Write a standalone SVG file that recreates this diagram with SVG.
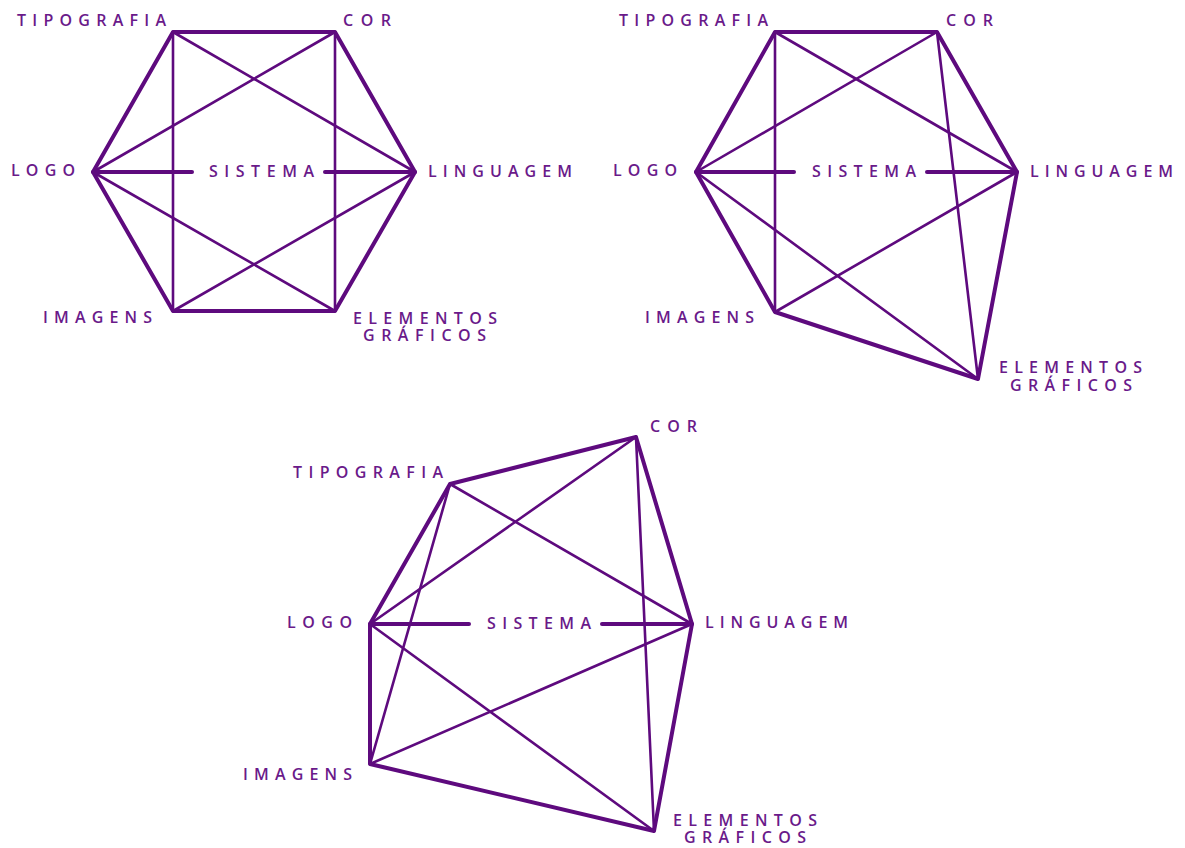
<svg xmlns="http://www.w3.org/2000/svg" width="1185" height="848" viewBox="0 0 1185 848">
<style>
.thick{stroke:#5e0a7e;stroke-width:4;fill:none;stroke-linecap:round;stroke-linejoin:round}
.thin{stroke:#5e0a7e;stroke-width:2.6;fill:none;stroke-linecap:round}
.lbl{font-family:"Open Sans","Liberation Sans",sans-serif;font-weight:600;font-size:16px;fill:#6a1a8a}
</style>
<rect width="1185" height="848" fill="#ffffff"/>
<g id="connectors">
<!-- diagram 1 -->
<polygon class="thick" points="173,32 335,32 415,172 335,311 173,311 93,172"/>
<line class="thin" x1="173" y1="32" x2="173" y2="311"/>
<line class="thin" x1="335" y1="32" x2="335" y2="311"/>
<line class="thin" x1="173" y1="32" x2="415" y2="172"/>
<line class="thin" x1="335" y1="32" x2="93" y2="172"/>
<line class="thin" x1="93" y1="172" x2="335" y2="311"/>
<line class="thin" x1="415" y1="172" x2="173" y2="311"/>
<line class="thick" x1="93" y1="172" x2="192" y2="172"/>
<line class="thick" x1="325" y1="172" x2="415" y2="172"/>
<!-- diagram 2 -->
<polygon class="thick" points="775,32 937,32 1017,172 978,379 775,312 696,172"/>
<line class="thin" x1="775" y1="32" x2="775" y2="312"/>
<line class="thin" x1="937" y1="32" x2="978" y2="379"/>
<line class="thin" x1="775" y1="32" x2="1017" y2="172"/>
<line class="thin" x1="937" y1="32" x2="696" y2="172"/>
<line class="thin" x1="696" y1="172" x2="978" y2="379"/>
<line class="thin" x1="1017" y1="172" x2="775" y2="312"/>
<line class="thick" x1="696" y1="172" x2="794" y2="172"/>
<line class="thick" x1="927" y1="172" x2="1017" y2="172"/>
<!-- diagram 3 -->
<polygon class="thick" points="450,484 636,437 692,624 654,831 370,764 370,624"/>
<line class="thin" x1="450" y1="484" x2="370" y2="764"/>
<line class="thin" x1="636" y1="437" x2="654" y2="831"/>
<line class="thin" x1="450" y1="484" x2="692" y2="624"/>
<line class="thin" x1="636" y1="437" x2="370" y2="624"/>
<line class="thin" x1="370" y1="624" x2="654" y2="831"/>
<line class="thin" x1="692" y1="624" x2="370" y2="764"/>
<line class="thick" x1="370" y1="624" x2="469" y2="624"/>
<line class="thick" x1="602" y1="624" x2="692" y2="624"/>
</g>
<g id="d1-tipografia"><text class="lbl" x="17" y="26" textLength="149" lengthAdjust="spacing">TIPOGRAFIA</text></g>
<g id="d1-cor"><text class="lbl" x="343" y="26" textLength="48" lengthAdjust="spacing">COR</text></g>
<g id="d1-logo"><text class="lbl" x="11" y="176" textLength="64" lengthAdjust="spacing">LOGO</text></g>
<g id="d1-sistema"><text class="lbl" x="209" y="177" textLength="105" lengthAdjust="spacing">SISTEMA</text></g>
<g id="d1-linguagem"><text class="lbl" x="428" y="177" textLength="144" lengthAdjust="spacing">LINGUAGEM</text></g>
<g id="d1-imagens"><text class="lbl" x="43" y="323" textLength="109" lengthAdjust="spacing">IMAGENS</text></g>
<g id="d1-elementos"><text class="lbl" x="353" y="324" textLength="144" lengthAdjust="spacing">ELEMENTOS</text><text class="lbl" x="363" y="341" textLength="123" lengthAdjust="spacing">GRÁFICOS</text></g>

<g id="d2-tipografia"><text class="lbl" x="619" y="26" textLength="149" lengthAdjust="spacing">TIPOGRAFIA</text></g>
<g id="d2-cor"><text class="lbl" x="946" y="26" textLength="47" lengthAdjust="spacing">COR</text></g>
<g id="d2-logo"><text class="lbl" x="613" y="176" textLength="64" lengthAdjust="spacing">LOGO</text></g>
<g id="d2-sistema"><text class="lbl" x="812" y="177" textLength="104" lengthAdjust="spacing">SISTEMA</text></g>
<g id="d2-linguagem"><text class="lbl" x="1030" y="177" textLength="143" lengthAdjust="spacing">LINGUAGEM</text></g>
<g id="d2-imagens"><text class="lbl" x="645" y="323" textLength="109" lengthAdjust="spacing">IMAGENS</text></g>
<g id="d2-elementos"><text class="lbl" x="999" y="373" textLength="143" lengthAdjust="spacing">ELEMENTOS</text><text class="lbl" x="1010" y="391" textLength="122" lengthAdjust="spacing">GRÁFICOS</text></g>

<g id="d3-tipografia"><text class="lbl" x="293" y="478" textLength="150" lengthAdjust="spacing">TIPOGRAFIA</text></g>
<g id="d3-cor"><text class="lbl" x="650" y="432" textLength="47" lengthAdjust="spacing">COR</text></g>
<g id="d3-logo"><text class="lbl" x="287" y="628" textLength="65" lengthAdjust="spacing">LOGO</text></g>
<g id="d3-sistema"><text class="lbl" x="487" y="629" textLength="104" lengthAdjust="spacing">SISTEMA</text></g>
<g id="d3-linguagem"><text class="lbl" x="705" y="628" textLength="143" lengthAdjust="spacing">LINGUAGEM</text></g>
<g id="d3-imagens"><text class="lbl" x="243" y="780" textLength="109" lengthAdjust="spacing">IMAGENS</text></g>
<g id="d3-elementos"><text class="lbl" x="673" y="826" textLength="144" lengthAdjust="spacing">ELEMENTOS</text><text class="lbl" x="684" y="843" textLength="122" lengthAdjust="spacing">GRÁFICOS</text></g>
</svg>
